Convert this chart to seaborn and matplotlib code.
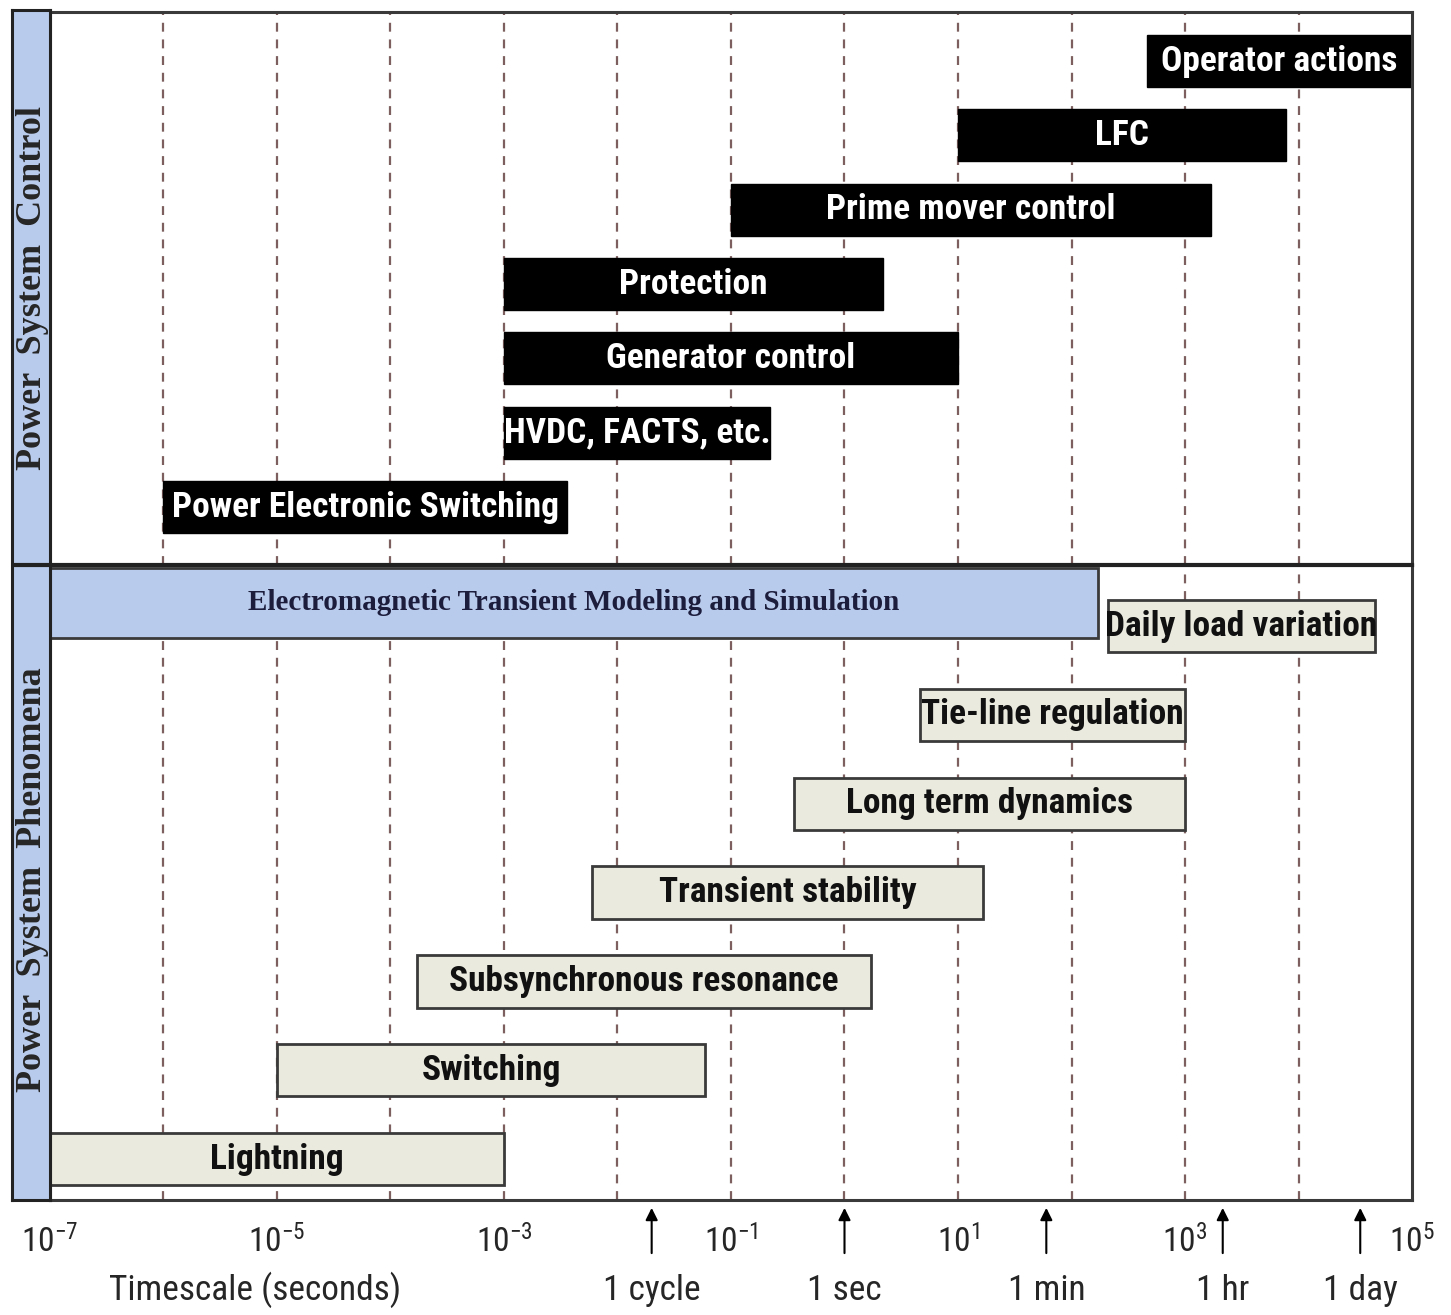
import numpy as np
import pandas as pd
import seaborn as sns
import matplotlib.pyplot as plt
from matplotlib import font_manager

# data
control_labels = ["Operator actions", "LFC", "Prime mover control", "Protection",
                  "Generator control", "HVDC, FACTS, etc.", "Power Electronic Switching"]
control_start = [4.6e2, 1e1, 1e-1, 1e-3, 1e-3, 1e-3, 1e-6]
control_end = [1e5, 7.8e3, 1.7e3, 2.2, 1e1, 0.22, 3.6e-3]
control_row = [0, 1, 2, 3, 4, 5, 6]

phen_labels = ["Electromagnetic Transient Modeling and Simulation", "Daily load variation",
               "Tie-line regulation", "Long term dynamics", "Transient stability",
               "Subsynchronous resonance", "Switching", "Lightning"]
phen_start = [1e-7, 2.1e2, 4.6, 0.36, 6e-3, 1.7e-4, 1e-5, 1e-7]
phen_end = [1.7e2, 4.7e4, 1e3, 1e3, 16.6, 1.7, 0.059, 1e-3]
phen_row = [-0.26, 0, 1, 2, 3, 4, 5, 6]

marker_labels = ["1 cycle", "1 sec", "1 min", "1 hr", "1 day"]
marker_pos = [0.02, 1.0, 60.0, 2150.0, 35000.0]

decades = [10.0 ** e for e in range(-7, 6)]
tick_labels = [r"$10^{%d}$" % e if e % 2 else "" for e in range(-7, 6)]

control_df = pd.DataFrame({"label": control_labels, "start": control_start,
                           "end": control_end, "row": control_row})
phen_df = pd.DataFrame({"label": phen_labels, "start": phen_start,
                        "end": phen_end, "row": phen_row})

# %% style
sns.set_style("white")
names = {f.name for f in font_manager.fontManager.ttflist}
narrow = next(n for n in ["Liberation Sans Narrow", "Roboto Condensed", "Liberation Sans", "DejaVu Sans"]
              if n in names)
serif = "Liberation Serif" if "Liberation Serif" in names else "DejaVu Serif"
plt.rcParams["font.family"] = [narrow, "DejaVu Sans"]
plt.rcParams["mathtext.fontset"] = "custom"
plt.rcParams["mathtext.rm"] = narrow
plt.rcParams["mathtext.default"] = "rm"

frame_col = "#3a3a3a"
dash_col = "#7d5f5f"
blue = "#b9cbec"
beige = "#ebeadf"
bar_fs = 25.5

fig = plt.figure(figsize=(14.51, 13.15), dpi=100)
W, H = 1451, 1315
ax_top = fig.add_axes([50 / W, 1 - 565 / H, 1362 / W, 553 / H])
ax_bot = fig.add_axes([50 / W, 1 - 1200 / H, 1362 / W, 635 / H], sharex=ax_top)
ax_strip = fig.add_axes([12 / W, 1 - 1200 / H, 38 / W, 1190 / H])

for ax in (ax_top, ax_bot):
    ax.set_xscale("log")
    ax.set_xlim(1e-7, 1e5)
    for d in decades[1:-1]:
        ax.axvline(d, color=dash_col, ls=(0, (4, 3.5)), lw=1.6, zorder=0)
    ax.set_yticks([])
    for sp in ax.spines.values():
        sp.set_color(frame_col)
        sp.set_linewidth(2.2)

# top panel: control
ax_top.set_ylim(6.78, -0.66)
ax_top.barh(control_df["row"], control_df["end"] - control_df["start"], left=control_df["start"],
            height=0.70, color="black", edgecolor="black", zorder=2)
for _, r in control_df.iterrows():
    xc = np.sqrt(r["start"] * r["end"])
    ax_top.text(xc, r["row"], r["label"], color="white", fontsize=bar_fs, fontweight="bold",
                ha="center", va="center", zorder=3)
ax_top.tick_params(axis="x", which="both", bottom=False, labelbottom=False)

# bottom panel: phenomena
ax_bot.set_ylim(6.46, -0.687)
for _, r in phen_df.iterrows():
    emt = r["row"] < 0
    ax_bot.barh(r["row"], r["end"] - r["start"], left=r["start"],
                height=0.79 if emt else 0.59, color=blue if emt else beige,
                edgecolor=frame_col, linewidth=2, zorder=2)
    xc = np.sqrt(r["start"] * r["end"])
    if emt:
        ax_bot.text(xc, r["row"], r["label"], color="#1c1c3c", fontsize=21, fontweight="bold",
                    family=[serif], ha="center", va="center", zorder=3)
    else:
        ax_bot.text(xc, r["row"], r["label"], color="#111111", fontsize=bar_fs, fontweight="bold",
                    ha="center", va="center", zorder=3)
ax_bot.spines["top"].set_linewidth(3)
ax_bot.spines["top"].set_color("#222222")

ax_bot.set_xticks(decades)
ax_bot.set_xticklabels(tick_labels)
ax_bot.xaxis.set_minor_locator(plt.NullLocator())
ax_bot.tick_params(axis="x", which="major", direction="in", length=5, width=1.2, color=frame_col,
                   labelsize=24, pad=18)

for lab, pos in zip(marker_labels, marker_pos):
    ax_bot.annotate("", xy=(pos, -0.008), xycoords=("data", "axes fraction"),
                    xytext=(pos, -0.088), textcoords=("data", "axes fraction"),
                    arrowprops=dict(arrowstyle="-|>", color="black", lw=1.5, mutation_scale=18),
                    annotation_clip=False)
    ax_bot.text(pos, -0.142, lab, transform=ax_bot.get_xaxis_transform(), fontsize=25.5,
                ha="center", va="center", clip_on=False)
ax_bot.text(0.1505, -0.142, "Timescale (seconds)", transform=ax_bot.transAxes, fontsize=25.5,
            ha="center", va="center")

# left strip with panel titles
ax_strip.set_facecolor(blue)
ax_strip.set_xticks([])
ax_strip.set_yticks([])
ax_strip.set_xlim(0, 1)
ax_strip.set_ylim(0, 1)
for sp in ax_strip.spines.values():
    sp.set_color("#222222")
    sp.set_linewidth(2.2)
ax_strip.axhline(1 - (565 - 10) / 1190, color="#222222", lw=3)
ax_strip.text(0.55, 1 - (288 - 10) / 1190, "Power  System  Control", rotation=90, family=[serif],
              fontweight="bold", fontsize=26, ha="center", va="center")
ax_strip.text(0.55, 1 - (880 - 10) / 1190, "Power  System  Phenomena", rotation=90, family=[serif],
              fontweight="bold", fontsize=26, ha="center", va="center")

fig.savefig("out.png", dpi=100)
